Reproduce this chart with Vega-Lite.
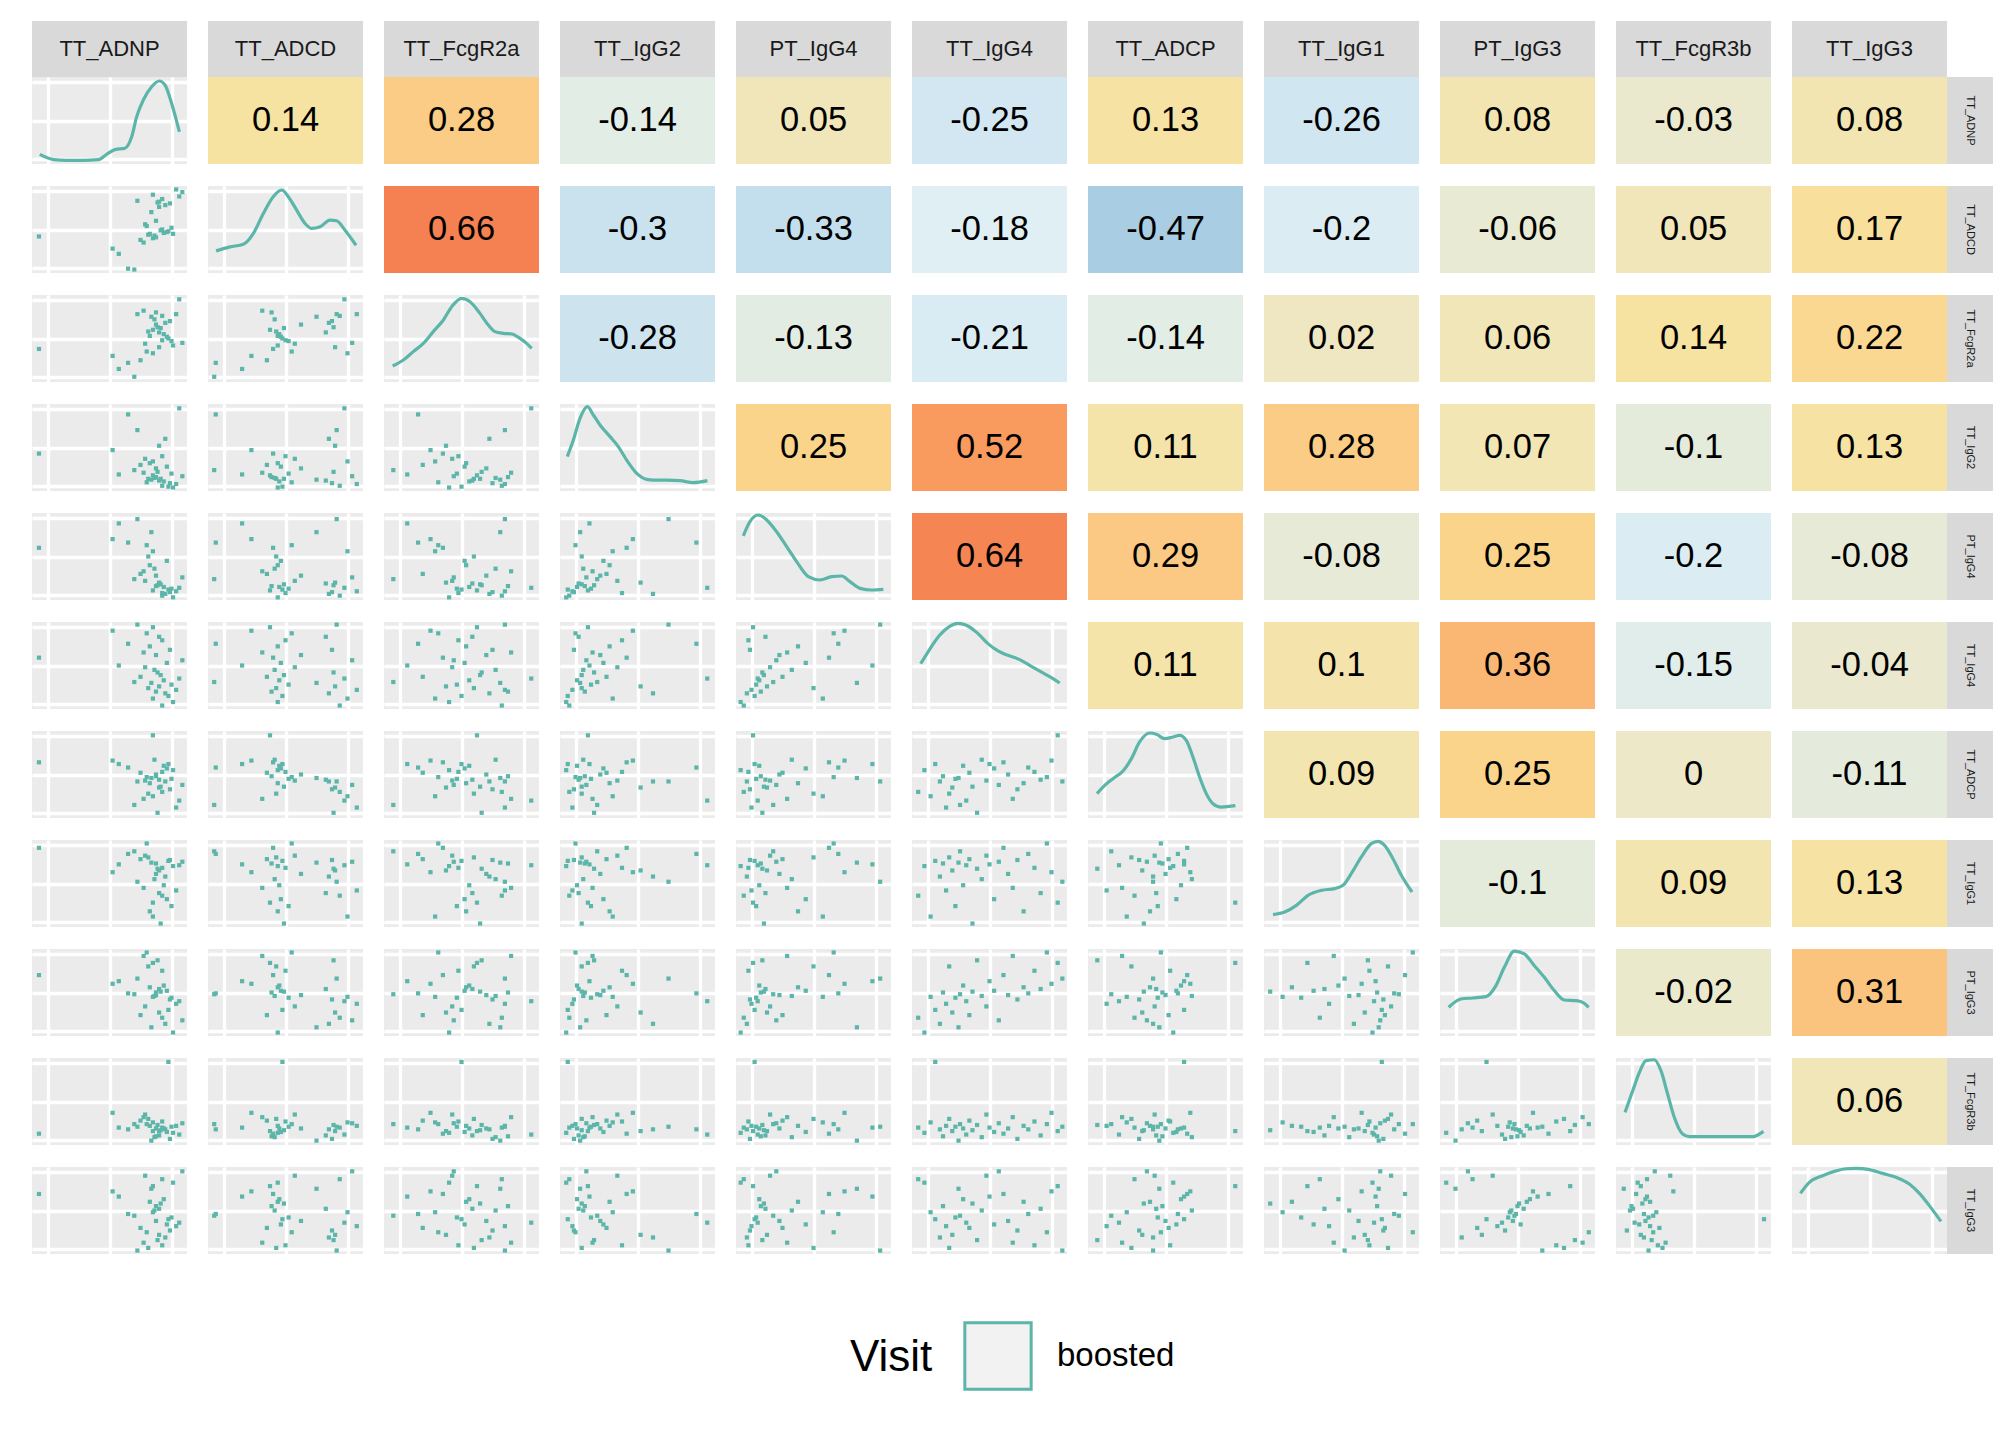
{
  "$schema": "https://vega.github.io/schema/vega-lite/v6.json",
  "padding": {"left": 32, "top": 21, "right": 10, "bottom": 20},
  "background": "white",
  "config": {
    "font": "Liberation Sans",
    "view": {"stroke": null, "fill": "#EBEBEB"},
    "legend": {"layout": {"bottom": {"anchor": "middle"}}}
  },
  "spacing": 0,
  "vconcat": [
    {
      "data": {"values": [{"V": "TT_ADNP"}, {"V": "TT_ADCD"}, {"V": "TT_FcgR2a"}, {"V": "TT_IgG2"}, {"V": "PT_IgG4"}, {"V": "TT_IgG4"}, {"V": "TT_ADCP"}, {"V": "TT_IgG1"}, {"V": "PT_IgG3"}, {"V": "TT_FcgR3b"}, {"V": "TT_IgG3"}]},
      "facet": {"column": {"field": "V", "type": "nominal", "sort": ["TT_ADNP","TT_ADCD","TT_FcgR2a","TT_IgG2","PT_IgG4","TT_IgG4","TT_ADCP","TT_IgG1","PT_IgG3","TT_FcgR3b","TT_IgG3"], "header": null}},
      "spacing": 21,
      "bounds": "flush",
      "spec": {
        "width": 155,
        "height": 56,
        "layer": [
          {"mark": {"type": "rect", "color": "#D9D9D9"},
           "encoding": {"x": {"datum": 0, "type": "quantitative", "scale": {"domain": [0, 1], "nice": false}, "axis": null}, "x2": {"datum": 1},
                        "y": {"datum": 0, "type": "quantitative", "scale": {"domain": [0, 1], "nice": false}, "axis": null}, "y2": {"datum": 1}}},
          {"mark": {"type": "text", "fontSize": 22, "color": "#1A1A1A"},
           "encoding": {"x": {"datum": 0.5, "type": "quantitative"}, "y": {"datum": 0.5, "type": "quantitative"}, "text": {"field": "V", "type": "nominal"}}}
        ]
      }
    },
    {
      "spacing": 0,
      "hconcat": [
        {
          "data": {"values": [
            {"k":"s","Visit":"boosted","TT_ADNP":0.84,"TT_ADCD":0.85,"TT_FcgR2a":0.76,"TT_IgG2":0.06,"PT_IgG4":0.05,"TT_IgG4":0.04,"TT_ADCP":0.30,"TT_IgG1":0.36,"PT_IgG3":0.21,"TT_FcgR3b":0.20,"TT_IgG3":0.86},
            {"k":"s","Visit":"boosted","TT_ADNP":0.91,"TT_ADCD":0.45,"TT_FcgR2a":0.42,"TT_IgG2":0.04,"PT_IgG4":0.03,"TT_IgG4":0.08,"TT_ADCP":0.55,"TT_IgG1":0.70,"PT_IgG3":0.04,"TT_FcgR3b":0.14,"TT_IgG3":0.82},
            {"k":"s","Visit":"boosted","TT_ADNP":0.78,"TT_ADCD":0.90,"TT_FcgR2a":0.33,"TT_IgG2":0.34,"PT_IgG4":0.56,"TT_IgG4":0.12,"TT_ADCP":0.25,"TT_IgG1":0.12,"PT_IgG3":0.45,"TT_FcgR3b":0.26,"TT_IgG3":0.48},
            {"k":"s","Visit":"boosted","TT_ADNP":0.88,"TT_ADCD":0.48,"TT_FcgR2a":0.50,"TT_IgG2":0.05,"PT_IgG4":0.12,"TT_IgG4":0.15,"TT_ADCP":0.62,"TT_IgG1":0.76,"PT_IgG3":0.30,"TT_FcgR3b":0.955,"TT_IgG3":0.40},
            {"k":"s","Visit":"boosted","TT_ADNP":0.86,"TT_ADCD":0.78,"TT_FcgR2a":0.68,"TT_IgG2":0.60,"PT_IgG4":0.07,"TT_IgG4":0.18,"TT_ADCP":0.42,"TT_IgG1":0.58,"PT_IgG3":0.14,"TT_FcgR3b":0.18,"TT_IgG3":0.19},
            {"k":"s","Visit":"boosted","TT_ADNP":0.80,"TT_ADCD":0.41,"TT_FcgR2a":0.80,"TT_IgG2":0.16,"PT_IgG4":0.16,"TT_IgG4":0.20,"TT_ADCP":0.48,"TT_IgG1":0.73,"PT_IgG3":0.50,"TT_FcgR3b":0.10,"TT_IgG3":0.55},
            {"k":"s","Visit":"boosted","TT_ADNP":0.93,"TT_ADCD":0.96,"TT_FcgR2a":0.78,"TT_IgG2":0.08,"PT_IgG4":0.10,"TT_IgG4":0.22,"TT_ADCP":0.12,"TT_IgG1":0.42,"PT_IgG3":0.37,"TT_FcgR3b":0.22,"TT_IgG3":0.32},
            {"k":"s","Visit":"boosted","TT_ADNP":0.75,"TT_ADCD":0.44,"TT_FcgR2a":0.58,"TT_IgG2":0.14,"PT_IgG4":0.50,"TT_IgG4":0.24,"TT_ADCP":0.28,"TT_IgG1":0.80,"PT_IgG3":0.80,"TT_FcgR3b":0.30,"TT_IgG3":0.07},
            {"k":"s","Visit":"boosted","TT_ADNP":0.82,"TT_ADCD":0.82,"TT_FcgR2a":0.40,"TT_IgG2":0.52,"PT_IgG4":0.20,"TT_IgG4":0.26,"TT_ADCP":0.35,"TT_IgG1":0.65,"PT_IgG3":0.27,"TT_FcgR3b":0.16,"TT_IgG3":0.22},
            {"k":"s","Visit":"boosted","TT_ADNP":0.90,"TT_ADCD":0.52,"TT_FcgR2a":0.47,"TT_IgG2":0.20,"PT_IgG4":0.13,"TT_IgG4":0.28,"TT_ADCP":0.45,"TT_IgG1":0.24,"PT_IgG3":0.44,"TT_FcgR3b":0.21,"TT_IgG3":0.42},
            {"k":"s","Visit":"boosted","TT_ADNP":0.77,"TT_ADCD":0.70,"TT_FcgR2a":0.75,"TT_IgG2":0.13,"PT_IgG4":0.78,"TT_IgG4":0.30,"TT_ADCP":0.46,"TT_IgG1":0.74,"PT_IgG3":0.10,"TT_FcgR3b":0.05,"TT_IgG3":0.75},
            {"k":"s","Visit":"boosted","TT_ADNP":0.66,"TT_ADCD":0.04,"TT_FcgR2a":0.06,"TT_IgG2":0.24,"PT_IgG4":0.24,"TT_IgG4":0.31,"TT_ADCP":0.15,"TT_IgG1":0.87,"PT_IgG3":0.48,"TT_FcgR3b":0.24,"TT_IgG3":0.44},
            {"k":"s","Visit":"boosted","TT_ADNP":0.85,"TT_ADCD":0.46,"TT_FcgR2a":0.55,"TT_IgG2":0.11,"PT_IgG4":0.15,"TT_IgG4":0.33,"TT_ADCP":0.60,"TT_IgG1":0.48,"PT_IgG3":0.58,"TT_FcgR3b":0.19,"TT_IgG3":0.63},
            {"k":"s","Visit":"boosted","TT_ADNP":0.95,"TT_ADCD":0.88,"TT_FcgR2a":0.95,"TT_IgG2":0.95,"PT_IgG4":0.14,"TT_IgG4":0.35,"TT_ADCP":0.20,"TT_IgG1":0.71,"PT_IgG3":0.40,"TT_FcgR3b":0.12,"TT_IgG3":0.36},
            {"k":"s","Visit":"boosted","TT_ADNP":0.70,"TT_ADCD":0.38,"TT_FcgR2a":0.25,"TT_IgG2":0.30,"PT_IgG4":0.30,"TT_IgG4":0.37,"TT_ADCP":0.52,"TT_IgG1":0.78,"PT_IgG3":0.24,"TT_FcgR3b":0.28,"TT_IgG3":0.30},
            {"k":"s","Visit":"boosted","TT_ADNP":0.83,"TT_ADCD":0.49,"TT_FcgR2a":0.62,"TT_IgG2":0.14,"PT_IgG4":0.18,"TT_IgG4":0.39,"TT_ADCP":0.36,"TT_IgG1":0.04,"PT_IgG3":0.51,"TT_FcgR3b":0.17,"TT_IgG3":0.58},
            {"k":"s","Visit":"boosted","TT_ADNP":0.81,"TT_ADCD":0.81,"TT_FcgR2a":0.63,"TT_IgG2":0.22,"PT_IgG4":0.17,"TT_IgG4":0.42,"TT_ADCP":0.06,"TT_IgG1":0.67,"PT_IgG3":0.87,"TT_FcgR3b":0.23,"TT_IgG3":0.16},
            {"k":"s","Visit":"boosted","TT_ADNP":0.79,"TT_ADCD":0.43,"TT_FcgR2a":0.72,"TT_IgG2":0.15,"PT_IgG4":0.36,"TT_IgG4":0.45,"TT_ADCP":0.67,"TT_IgG1":0.55,"PT_IgG3":0.46,"TT_FcgR3b":0.09,"TT_IgG3":0.50},
            {"k":"s","Visit":"boosted","TT_ADNP":0.73,"TT_ADCD":0.56,"TT_FcgR2a":0.44,"TT_IgG2":0.37,"PT_IgG4":0.22,"TT_IgG4":0.48,"TT_ADCP":0.43,"TT_IgG1":0.82,"PT_IgG3":0.34,"TT_FcgR3b":0.35,"TT_IgG3":0.90},
            {"k":"s","Visit":"boosted","TT_ADNP":0.56,"TT_ADCD":0.22,"TT_FcgR2a":0.15,"TT_IgG2":0.19,"PT_IgG4":0.88,"TT_IgG4":0.50,"TT_ADCP":0.62,"TT_IgG1":0.72,"PT_IgG3":0.63,"TT_FcgR3b":0.20,"TT_IgG3":0.66},
            {"k":"s","Visit":"boosted","TT_ADNP":0.87,"TT_ADCD":0.47,"TT_FcgR2a":0.52,"TT_IgG2":0.28,"PT_IgG4":0.45,"TT_IgG4":0.53,"TT_ADCP":0.57,"TT_IgG1":0.32,"PT_IgG3":0.52,"TT_FcgR3b":0.15,"TT_IgG3":0.34},
            {"k":"s","Visit":"boosted","TT_ADNP":0.97,"TT_ADCD":0.93,"TT_FcgR2a":0.45,"TT_IgG2":0.17,"PT_IgG4":0.26,"TT_IgG4":0.56,"TT_ADCP":0.38,"TT_IgG1":0.75,"PT_IgG3":0.18,"TT_FcgR3b":0.25,"TT_IgG3":0.95},
            {"k":"s","Visit":"boosted","TT_ADNP":0.045,"TT_ADCD":0.42,"TT_FcgR2a":0.38,"TT_IgG2":0.43,"PT_IgG4":0.60,"TT_IgG4":0.59,"TT_ADCP":0.64,"TT_IgG1":0.91,"PT_IgG3":0.70,"TT_FcgR3b":0.13,"TT_IgG3":0.69},
            {"k":"s","Visit":"boosted","TT_ADNP":0.80,"TT_ADCD":0.60,"TT_FcgR2a":0.66,"TT_IgG2":0.26,"PT_IgG4":0.28,"TT_IgG4":0.62,"TT_ADCP":0.50,"TT_IgG1":0.61,"PT_IgG3":0.47,"TT_FcgR3b":0.19,"TT_IgG3":0.38},
            {"k":"s","Visit":"boosted","TT_ADNP":0.72,"TT_ADCD":0.35,"TT_FcgR2a":0.82,"TT_IgG2":0.21,"PT_IgG4":0.33,"TT_IgG4":0.65,"TT_ADCP":0.22,"TT_IgG1":0.45,"PT_IgG3":0.92,"TT_FcgR3b":0.32,"TT_IgG3":0.13},
            {"k":"s","Visit":"boosted","TT_ADNP":0.89,"TT_ADCD":0.80,"TT_FcgR2a":0.70,"TT_IgG2":0.09,"PT_IgG4":0.09,"TT_IgG4":0.68,"TT_ADCP":0.33,"TT_IgG1":0.77,"PT_IgG3":0.42,"TT_FcgR3b":0.07,"TT_IgG3":0.27},
            {"k":"s","Visit":"boosted","TT_ADNP":0.76,"TT_ADCD":0.45,"TT_FcgR2a":0.53,"TT_IgG2":0.32,"PT_IgG4":0.40,"TT_IgG4":0.72,"TT_ADCP":0.40,"TT_IgG1":0.18,"PT_IgG3":0.56,"TT_FcgR3b":0.22,"TT_IgG3":0.60},
            {"k":"s","Visit":"boosted","TT_ADNP":0.62,"TT_ADCD":0.05,"TT_FcgR2a":0.22,"TT_IgG2":0.88,"PT_IgG4":0.66,"TT_IgG4":0.75,"TT_ADCP":0.58,"TT_IgG1":0.84,"PT_IgG3":0.49,"TT_FcgR3b":0.18,"TT_IgG3":0.46},
            {"k":"s","Visit":"boosted","TT_ADNP":0.84,"TT_ADCD":0.50,"TT_FcgR2a":0.48,"TT_IgG2":0.40,"PT_IgG4":0.08,"TT_IgG4":0.79,"TT_ADCP":0.53,"TT_IgG1":0.68,"PT_IgG3":0.75,"TT_FcgR3b":0.27,"TT_IgG3":0.10},
            {"k":"s","Visit":"boosted","TT_ADNP":0.82,"TT_ADCD":0.76,"TT_FcgR2a":0.57,"TT_IgG2":0.12,"PT_IgG4":0.19,"TT_IgG4":0.83,"TT_ADCP":0.44,"TT_IgG1":0.39,"PT_IgG3":0.54,"TT_FcgR3b":0.11,"TT_IgG3":0.52},
            {"k":"s","Visit":"boosted","TT_ADNP":0.74,"TT_ADCD":0.54,"TT_FcgR2a":0.35,"TT_IgG2":0.10,"PT_IgG4":0.63,"TT_IgG4":0.87,"TT_ADCP":0.47,"TT_IgG1":0.96,"PT_IgG3":0.96,"TT_FcgR3b":0.24,"TT_IgG3":0.25},
            {"k":"s","Visit":"boosted","TT_ADNP":0.52,"TT_ADCD":0.28,"TT_FcgR2a":0.30,"TT_IgG2":0.47,"PT_IgG4":0.70,"TT_IgG4":0.90,"TT_ADCP":0.66,"TT_IgG1":0.63,"PT_IgG3":0.60,"TT_FcgR3b":0.37,"TT_IgG3":0.72},
            {"k":"s","Visit":"boosted","TT_ADNP":0.78,"TT_ADCD":0.40,"TT_FcgR2a":0.60,"TT_IgG2":0.18,"PT_IgG4":0.11,"TT_IgG4":0.94,"TT_ADCP":0.95,"TT_IgG1":0.28,"PT_IgG3":0.84,"TT_FcgR3b":0.16,"TT_IgG3":0.78},
            {"k":"s","Visit":"boosted","TT_ADNP":0.68,"TT_ADCD":0.83,"TT_FcgR2a":0.78,"TT_IgG2":0.70,"PT_IgG4":0.93,"TT_IgG4":0.97,"TT_ADCP":0.42,"TT_IgG1":0.52,"PT_IgG3":0.66,"TT_FcgR3b":0.21,"TT_IgG3":0.04},

            {"k":"c","R":"TT_ADNP","C":"TT_ADCD","r":0.14},
            {"k":"c","R":"TT_ADNP","C":"TT_FcgR2a","r":0.28},
            {"k":"c","R":"TT_ADNP","C":"TT_IgG2","r":-0.14},
            {"k":"c","R":"TT_ADNP","C":"PT_IgG4","r":0.05},
            {"k":"c","R":"TT_ADNP","C":"TT_IgG4","r":-0.25},
            {"k":"c","R":"TT_ADNP","C":"TT_ADCP","r":0.13},
            {"k":"c","R":"TT_ADNP","C":"TT_IgG1","r":-0.26},
            {"k":"c","R":"TT_ADNP","C":"PT_IgG3","r":0.08},
            {"k":"c","R":"TT_ADNP","C":"TT_FcgR3b","r":-0.03},
            {"k":"c","R":"TT_ADNP","C":"TT_IgG3","r":0.08},
            {"k":"c","R":"TT_ADCD","C":"TT_FcgR2a","r":0.66},
            {"k":"c","R":"TT_ADCD","C":"TT_IgG2","r":-0.3},
            {"k":"c","R":"TT_ADCD","C":"PT_IgG4","r":-0.33},
            {"k":"c","R":"TT_ADCD","C":"TT_IgG4","r":-0.18},
            {"k":"c","R":"TT_ADCD","C":"TT_ADCP","r":-0.47},
            {"k":"c","R":"TT_ADCD","C":"TT_IgG1","r":-0.2},
            {"k":"c","R":"TT_ADCD","C":"PT_IgG3","r":-0.06},
            {"k":"c","R":"TT_ADCD","C":"TT_FcgR3b","r":0.05},
            {"k":"c","R":"TT_ADCD","C":"TT_IgG3","r":0.17},
            {"k":"c","R":"TT_FcgR2a","C":"TT_IgG2","r":-0.28},
            {"k":"c","R":"TT_FcgR2a","C":"PT_IgG4","r":-0.13},
            {"k":"c","R":"TT_FcgR2a","C":"TT_IgG4","r":-0.21},
            {"k":"c","R":"TT_FcgR2a","C":"TT_ADCP","r":-0.14},
            {"k":"c","R":"TT_FcgR2a","C":"TT_IgG1","r":0.02},
            {"k":"c","R":"TT_FcgR2a","C":"PT_IgG3","r":0.06},
            {"k":"c","R":"TT_FcgR2a","C":"TT_FcgR3b","r":0.14},
            {"k":"c","R":"TT_FcgR2a","C":"TT_IgG3","r":0.22},
            {"k":"c","R":"TT_IgG2","C":"PT_IgG4","r":0.25},
            {"k":"c","R":"TT_IgG2","C":"TT_IgG4","r":0.52},
            {"k":"c","R":"TT_IgG2","C":"TT_ADCP","r":0.11},
            {"k":"c","R":"TT_IgG2","C":"TT_IgG1","r":0.28},
            {"k":"c","R":"TT_IgG2","C":"PT_IgG3","r":0.07},
            {"k":"c","R":"TT_IgG2","C":"TT_FcgR3b","r":-0.1},
            {"k":"c","R":"TT_IgG2","C":"TT_IgG3","r":0.13},
            {"k":"c","R":"PT_IgG4","C":"TT_IgG4","r":0.64},
            {"k":"c","R":"PT_IgG4","C":"TT_ADCP","r":0.29},
            {"k":"c","R":"PT_IgG4","C":"TT_IgG1","r":-0.08},
            {"k":"c","R":"PT_IgG4","C":"PT_IgG3","r":0.25},
            {"k":"c","R":"PT_IgG4","C":"TT_FcgR3b","r":-0.2},
            {"k":"c","R":"PT_IgG4","C":"TT_IgG3","r":-0.08},
            {"k":"c","R":"TT_IgG4","C":"TT_ADCP","r":0.11},
            {"k":"c","R":"TT_IgG4","C":"TT_IgG1","r":0.1},
            {"k":"c","R":"TT_IgG4","C":"PT_IgG3","r":0.36},
            {"k":"c","R":"TT_IgG4","C":"TT_FcgR3b","r":-0.15},
            {"k":"c","R":"TT_IgG4","C":"TT_IgG3","r":-0.04},
            {"k":"c","R":"TT_ADCP","C":"TT_IgG1","r":0.09},
            {"k":"c","R":"TT_ADCP","C":"PT_IgG3","r":0.25},
            {"k":"c","R":"TT_ADCP","C":"TT_FcgR3b","r":0},
            {"k":"c","R":"TT_ADCP","C":"TT_IgG3","r":-0.11},
            {"k":"c","R":"TT_IgG1","C":"PT_IgG3","r":-0.1},
            {"k":"c","R":"TT_IgG1","C":"TT_FcgR3b","r":0.09},
            {"k":"c","R":"TT_IgG1","C":"TT_IgG3","r":0.13},
            {"k":"c","R":"PT_IgG3","C":"TT_FcgR3b","r":-0.02},
            {"k":"c","R":"PT_IgG3","C":"TT_IgG3","r":0.31},
            {"k":"c","R":"TT_FcgR3b","C":"TT_IgG3","r":0.06},

            {"k":"d","R":"TT_ADNP","C":"TT_ADNP","dx":0.05,"dy":0.11},
            {"k":"d","R":"TT_ADNP","C":"TT_ADNP","dx":0.14,"dy":0.05},
            {"k":"d","R":"TT_ADNP","C":"TT_ADNP","dx":0.22,"dy":0.042},
            {"k":"d","R":"TT_ADNP","C":"TT_ADNP","dx":0.33,"dy":0.042},
            {"k":"d","R":"TT_ADNP","C":"TT_ADNP","dx":0.43,"dy":0.05},
            {"k":"d","R":"TT_ADNP","C":"TT_ADNP","dx":0.482,"dy":0.112},
            {"k":"d","R":"TT_ADNP","C":"TT_ADNP","dx":0.535,"dy":0.165},
            {"k":"d","R":"TT_ADNP","C":"TT_ADNP","dx":0.6,"dy":0.181},
            {"k":"d","R":"TT_ADNP","C":"TT_ADNP","dx":0.643,"dy":0.312},
            {"k":"d","R":"TT_ADNP","C":"TT_ADNP","dx":0.675,"dy":0.542},
            {"k":"d","R":"TT_ADNP","C":"TT_ADNP","dx":0.718,"dy":0.735},
            {"k":"d","R":"TT_ADNP","C":"TT_ADNP","dx":0.772,"dy":0.888},
            {"k":"d","R":"TT_ADNP","C":"TT_ADNP","dx":0.822,"dy":0.954},
            {"k":"d","R":"TT_ADNP","C":"TT_ADNP","dx":0.858,"dy":0.908},
            {"k":"d","R":"TT_ADNP","C":"TT_ADNP","dx":0.901,"dy":0.696},
            {"k":"d","R":"TT_ADNP","C":"TT_ADNP","dx":0.951,"dy":0.369},

            {"k":"d","R":"TT_ADCD","C":"TT_ADCD","dx":0.052,"dy":0.254},
            {"k":"d","R":"TT_ADCD","C":"TT_ADCD","dx":0.142,"dy":0.3},
            {"k":"d","R":"TT_ADCD","C":"TT_ADCD","dx":0.228,"dy":0.331},
            {"k":"d","R":"TT_ADCD","C":"TT_ADCD","dx":0.292,"dy":0.454},
            {"k":"d","R":"TT_ADCD","C":"TT_ADCD","dx":0.357,"dy":0.685},
            {"k":"d","R":"TT_ADCD","C":"TT_ADCD","dx":0.421,"dy":0.877},
            {"k":"d","R":"TT_ADCD","C":"TT_ADCD","dx":0.475,"dy":0.954},
            {"k":"d","R":"TT_ADCD","C":"TT_ADCD","dx":0.518,"dy":0.877},
            {"k":"d","R":"TT_ADCD","C":"TT_ADCD","dx":0.572,"dy":0.723},
            {"k":"d","R":"TT_ADCD","C":"TT_ADCD","dx":0.626,"dy":0.569},
            {"k":"d","R":"TT_ADCD","C":"TT_ADCD","dx":0.669,"dy":0.512},
            {"k":"d","R":"TT_ADCD","C":"TT_ADCD","dx":0.723,"dy":0.531},
            {"k":"d","R":"TT_ADCD","C":"TT_ADCD","dx":0.787,"dy":0.608},
            {"k":"d","R":"TT_ADCD","C":"TT_ADCD","dx":0.83,"dy":0.6},
            {"k":"d","R":"TT_ADCD","C":"TT_ADCD","dx":0.884,"dy":0.492},
            {"k":"d","R":"TT_ADCD","C":"TT_ADCD","dx":0.955,"dy":0.319},

            {"k":"d","R":"TT_FcgR2a","C":"TT_FcgR2a","dx":0.056,"dy":0.184},
            {"k":"d","R":"TT_FcgR2a","C":"TT_FcgR2a","dx":0.125,"dy":0.253},
            {"k":"d","R":"TT_FcgR2a","C":"TT_FcgR2a","dx":0.189,"dy":0.349},
            {"k":"d","R":"TT_FcgR2a","C":"TT_FcgR2a","dx":0.254,"dy":0.444},
            {"k":"d","R":"TT_FcgR2a","C":"TT_FcgR2a","dx":0.318,"dy":0.579},
            {"k":"d","R":"TT_FcgR2a","C":"TT_FcgR2a","dx":0.383,"dy":0.713},
            {"k":"d","R":"TT_FcgR2a","C":"TT_FcgR2a","dx":0.437,"dy":0.866},
            {"k":"d","R":"TT_FcgR2a","C":"TT_FcgR2a","dx":0.501,"dy":0.962},
            {"k":"d","R":"TT_FcgR2a","C":"TT_FcgR2a","dx":0.555,"dy":0.923},
            {"k":"d","R":"TT_FcgR2a","C":"TT_FcgR2a","dx":0.619,"dy":0.789},
            {"k":"d","R":"TT_FcgR2a","C":"TT_FcgR2a","dx":0.673,"dy":0.655},
            {"k":"d","R":"TT_FcgR2a","C":"TT_FcgR2a","dx":0.716,"dy":0.579},
            {"k":"d","R":"TT_FcgR2a","C":"TT_FcgR2a","dx":0.77,"dy":0.559},
            {"k":"d","R":"TT_FcgR2a","C":"TT_FcgR2a","dx":0.824,"dy":0.552},
            {"k":"d","R":"TT_FcgR2a","C":"TT_FcgR2a","dx":0.877,"dy":0.502},
            {"k":"d","R":"TT_FcgR2a","C":"TT_FcgR2a","dx":0.92,"dy":0.444},
            {"k":"d","R":"TT_FcgR2a","C":"TT_FcgR2a","dx":0.953,"dy":0.387},

            {"k":"d","R":"TT_IgG2","C":"TT_IgG2","dx":0.047,"dy":0.395},
            {"k":"d","R":"TT_IgG2","C":"TT_IgG2","dx":0.086,"dy":0.586},
            {"k":"d","R":"TT_IgG2","C":"TT_IgG2","dx":0.129,"dy":0.835},
            {"k":"d","R":"TT_IgG2","C":"TT_IgG2","dx":0.176,"dy":0.969},
            {"k":"d","R":"TT_IgG2","C":"TT_IgG2","dx":0.215,"dy":0.874},
            {"k":"d","R":"TT_IgG2","C":"TT_IgG2","dx":0.258,"dy":0.759},
            {"k":"d","R":"TT_IgG2","C":"TT_IgG2","dx":0.323,"dy":0.625},
            {"k":"d","R":"TT_IgG2","C":"TT_IgG2","dx":0.376,"dy":0.51},
            {"k":"d","R":"TT_IgG2","C":"TT_IgG2","dx":0.43,"dy":0.356},
            {"k":"d","R":"TT_IgG2","C":"TT_IgG2","dx":0.495,"dy":0.203},
            {"k":"d","R":"TT_IgG2","C":"TT_IgG2","dx":0.559,"dy":0.134},
            {"k":"d","R":"TT_IgG2","C":"TT_IgG2","dx":0.602,"dy":0.126},
            {"k":"d","R":"TT_IgG2","C":"TT_IgG2","dx":0.688,"dy":0.126},
            {"k":"d","R":"TT_IgG2","C":"TT_IgG2","dx":0.774,"dy":0.119},
            {"k":"d","R":"TT_IgG2","C":"TT_IgG2","dx":0.86,"dy":0.096},
            {"k":"d","R":"TT_IgG2","C":"TT_IgG2","dx":0.951,"dy":0.119},

            {"k":"d","R":"PT_IgG4","C":"PT_IgG4","dx":0.047,"dy":0.736},
            {"k":"d","R":"PT_IgG4","C":"PT_IgG4","dx":0.09,"dy":0.9},
            {"k":"d","R":"PT_IgG4","C":"PT_IgG4","dx":0.144,"dy":0.977},
            {"k":"d","R":"PT_IgG4","C":"PT_IgG4","dx":0.198,"dy":0.92},
            {"k":"d","R":"PT_IgG4","C":"PT_IgG4","dx":0.262,"dy":0.785},
            {"k":"d","R":"PT_IgG4","C":"PT_IgG4","dx":0.327,"dy":0.613},
            {"k":"d","R":"PT_IgG4","C":"PT_IgG4","dx":0.391,"dy":0.441},
            {"k":"d","R":"PT_IgG4","C":"PT_IgG4","dx":0.467,"dy":0.268},
            {"k":"d","R":"PT_IgG4","C":"PT_IgG4","dx":0.542,"dy":0.23},
            {"k":"d","R":"PT_IgG4","C":"PT_IgG4","dx":0.617,"dy":0.268},
            {"k":"d","R":"PT_IgG4","C":"PT_IgG4","dx":0.682,"dy":0.276},
            {"k":"d","R":"PT_IgG4","C":"PT_IgG4","dx":0.735,"dy":0.211},
            {"k":"d","R":"PT_IgG4","C":"PT_IgG4","dx":0.8,"dy":0.134},
            {"k":"d","R":"PT_IgG4","C":"PT_IgG4","dx":0.875,"dy":0.115},
            {"k":"d","R":"PT_IgG4","C":"PT_IgG4","dx":0.951,"dy":0.123},

            {"k":"d","R":"TT_IgG4","C":"TT_IgG4","dx":0.056,"dy":0.521},
            {"k":"d","R":"TT_IgG4","C":"TT_IgG4","dx":0.103,"dy":0.655},
            {"k":"d","R":"TT_IgG4","C":"TT_IgG4","dx":0.178,"dy":0.847},
            {"k":"d","R":"TT_IgG4","C":"TT_IgG4","dx":0.243,"dy":0.95},
            {"k":"d","R":"TT_IgG4","C":"TT_IgG4","dx":0.297,"dy":0.985},
            {"k":"d","R":"TT_IgG4","C":"TT_IgG4","dx":0.351,"dy":0.962},
            {"k":"d","R":"TT_IgG4","C":"TT_IgG4","dx":0.426,"dy":0.866},
            {"k":"d","R":"TT_IgG4","C":"TT_IgG4","dx":0.49,"dy":0.751},
            {"k":"d","R":"TT_IgG4","C":"TT_IgG4","dx":0.555,"dy":0.667},
            {"k":"d","R":"TT_IgG4","C":"TT_IgG4","dx":0.619,"dy":0.617},
            {"k":"d","R":"TT_IgG4","C":"TT_IgG4","dx":0.695,"dy":0.567},
            {"k":"d","R":"TT_IgG4","C":"TT_IgG4","dx":0.77,"dy":0.49},
            {"k":"d","R":"TT_IgG4","C":"TT_IgG4","dx":0.845,"dy":0.414},
            {"k":"d","R":"TT_IgG4","C":"TT_IgG4","dx":0.899,"dy":0.36},
            {"k":"d","R":"TT_IgG4","C":"TT_IgG4","dx":0.953,"dy":0.299},

            {"k":"d","R":"TT_ADCP","C":"TT_ADCP","dx":0.058,"dy":0.28},
            {"k":"d","R":"TT_ADCP","C":"TT_ADCP","dx":0.108,"dy":0.375},
            {"k":"d","R":"TT_ADCP","C":"TT_ADCP","dx":0.161,"dy":0.452},
            {"k":"d","R":"TT_ADCP","C":"TT_ADCP","dx":0.226,"dy":0.54},
            {"k":"d","R":"TT_ADCP","C":"TT_ADCP","dx":0.28,"dy":0.682},
            {"k":"d","R":"TT_ADCP","C":"TT_ADCP","dx":0.333,"dy":0.874},
            {"k":"d","R":"TT_ADCP","C":"TT_ADCP","dx":0.398,"dy":0.977},
            {"k":"d","R":"TT_ADCP","C":"TT_ADCP","dx":0.441,"dy":0.962},
            {"k":"d","R":"TT_ADCP","C":"TT_ADCP","dx":0.495,"dy":0.912},
            {"k":"d","R":"TT_ADCP","C":"TT_ADCP","dx":0.548,"dy":0.931},
            {"k":"d","R":"TT_ADCP","C":"TT_ADCP","dx":0.591,"dy":0.95},
            {"k":"d","R":"TT_ADCP","C":"TT_ADCP","dx":0.634,"dy":0.893},
            {"k":"d","R":"TT_ADCP","C":"TT_ADCP","dx":0.677,"dy":0.701},
            {"k":"d","R":"TT_ADCP","C":"TT_ADCP","dx":0.72,"dy":0.471},
            {"k":"d","R":"TT_ADCP","C":"TT_ADCP","dx":0.763,"dy":0.28},
            {"k":"d","R":"TT_ADCP","C":"TT_ADCP","dx":0.806,"dy":0.165},
            {"k":"d","R":"TT_ADCP","C":"TT_ADCP","dx":0.86,"dy":0.126},
            {"k":"d","R":"TT_ADCP","C":"TT_ADCP","dx":0.951,"dy":0.142},

            {"k":"d","R":"TT_IgG1","C":"TT_IgG1","dx":0.058,"dy":0.142},
            {"k":"d","R":"TT_IgG1","C":"TT_IgG1","dx":0.133,"dy":0.172},
            {"k":"d","R":"TT_IgG1","C":"TT_IgG1","dx":0.209,"dy":0.249},
            {"k":"d","R":"TT_IgG1","C":"TT_IgG1","dx":0.284,"dy":0.364},
            {"k":"d","R":"TT_IgG1","C":"TT_IgG1","dx":0.37,"dy":0.421},
            {"k":"d","R":"TT_IgG1","C":"TT_IgG1","dx":0.456,"dy":0.441},
            {"k":"d","R":"TT_IgG1","C":"TT_IgG1","dx":0.51,"dy":0.479},
            {"k":"d","R":"TT_IgG1","C":"TT_IgG1","dx":0.563,"dy":0.613},
            {"k":"d","R":"TT_IgG1","C":"TT_IgG1","dx":0.628,"dy":0.805},
            {"k":"d","R":"TT_IgG1","C":"TT_IgG1","dx":0.692,"dy":0.958},
            {"k":"d","R":"TT_IgG1","C":"TT_IgG1","dx":0.735,"dy":0.985},
            {"k":"d","R":"TT_IgG1","C":"TT_IgG1","dx":0.778,"dy":0.939},
            {"k":"d","R":"TT_IgG1","C":"TT_IgG1","dx":0.832,"dy":0.785},
            {"k":"d","R":"TT_IgG1","C":"TT_IgG1","dx":0.886,"dy":0.594},
            {"k":"d","R":"TT_IgG1","C":"TT_IgG1","dx":0.955,"dy":0.402},

            {"k":"d","R":"PT_IgG3","C":"PT_IgG3","dx":0.056,"dy":0.33},
            {"k":"d","R":"PT_IgG3","C":"PT_IgG3","dx":0.135,"dy":0.425},
            {"k":"d","R":"PT_IgG3","C":"PT_IgG3","dx":0.211,"dy":0.437},
            {"k":"d","R":"PT_IgG3","C":"PT_IgG3","dx":0.297,"dy":0.452},
            {"k":"d","R":"PT_IgG3","C":"PT_IgG3","dx":0.361,"dy":0.579},
            {"k":"d","R":"PT_IgG3","C":"PT_IgG3","dx":0.415,"dy":0.789},
            {"k":"d","R":"PT_IgG3","C":"PT_IgG3","dx":0.48,"dy":0.975},
            {"k":"d","R":"PT_IgG3","C":"PT_IgG3","dx":0.544,"dy":0.943},
            {"k":"d","R":"PT_IgG3","C":"PT_IgG3","dx":0.609,"dy":0.808},
            {"k":"d","R":"PT_IgG3","C":"PT_IgG3","dx":0.673,"dy":0.674},
            {"k":"d","R":"PT_IgG3","C":"PT_IgG3","dx":0.738,"dy":0.521},
            {"k":"d","R":"PT_IgG3","C":"PT_IgG3","dx":0.802,"dy":0.414},
            {"k":"d","R":"PT_IgG3","C":"PT_IgG3","dx":0.877,"dy":0.406},
            {"k":"d","R":"PT_IgG3","C":"PT_IgG3","dx":0.92,"dy":0.387},
            {"k":"d","R":"PT_IgG3","C":"PT_IgG3","dx":0.959,"dy":0.33},

            {"k":"d","R":"TT_FcgR3b","C":"TT_FcgR3b","dx":0.058,"dy":0.375},
            {"k":"d","R":"TT_FcgR3b","C":"TT_FcgR3b","dx":0.108,"dy":0.625},
            {"k":"d","R":"TT_FcgR3b","C":"TT_FcgR3b","dx":0.151,"dy":0.835},
            {"k":"d","R":"TT_FcgR3b","C":"TT_FcgR3b","dx":0.194,"dy":0.97},
            {"k":"d","R":"TT_FcgR3b","C":"TT_FcgR3b","dx":0.247,"dy":0.98},
            {"k":"d","R":"TT_FcgR3b","C":"TT_FcgR3b","dx":0.29,"dy":0.854},
            {"k":"d","R":"TT_FcgR3b","C":"TT_FcgR3b","dx":0.333,"dy":0.586},
            {"k":"d","R":"TT_FcgR3b","C":"TT_FcgR3b","dx":0.376,"dy":0.318},
            {"k":"d","R":"TT_FcgR3b","C":"TT_FcgR3b","dx":0.43,"dy":0.126},
            {"k":"d","R":"TT_FcgR3b","C":"TT_FcgR3b","dx":0.473,"dy":0.096},
            {"k":"d","R":"TT_FcgR3b","C":"TT_FcgR3b","dx":0.559,"dy":0.096},
            {"k":"d","R":"TT_FcgR3b","C":"TT_FcgR3b","dx":0.667,"dy":0.096},
            {"k":"d","R":"TT_FcgR3b","C":"TT_FcgR3b","dx":0.774,"dy":0.096},
            {"k":"d","R":"TT_FcgR3b","C":"TT_FcgR3b","dx":0.882,"dy":0.096},
            {"k":"d","R":"TT_FcgR3b","C":"TT_FcgR3b","dx":0.951,"dy":0.157},

            {"k":"d","R":"TT_IgG3","C":"TT_IgG3","dx":0.054,"dy":0.697},
            {"k":"d","R":"TT_IgG3","C":"TT_IgG3","dx":0.112,"dy":0.824},
            {"k":"d","R":"TT_IgG3","C":"TT_IgG3","dx":0.198,"dy":0.9},
            {"k":"d","R":"TT_IgG3","C":"TT_IgG3","dx":0.284,"dy":0.955},
            {"k":"d","R":"TT_IgG3","C":"TT_IgG3","dx":0.348,"dy":0.98},
            {"k":"d","R":"TT_IgG3","C":"TT_IgG3","dx":0.413,"dy":0.985},
            {"k":"d","R":"TT_IgG3","C":"TT_IgG3","dx":0.499,"dy":0.97},
            {"k":"d","R":"TT_IgG3","C":"TT_IgG3","dx":0.585,"dy":0.927},
            {"k":"d","R":"TT_IgG3","C":"TT_IgG3","dx":0.671,"dy":0.881},
            {"k":"d","R":"TT_IgG3","C":"TT_IgG3","dx":0.757,"dy":0.805},
            {"k":"d","R":"TT_IgG3","C":"TT_IgG3","dx":0.822,"dy":0.697},
            {"k":"d","R":"TT_IgG3","C":"TT_IgG3","dx":0.886,"dy":0.556},
            {"k":"d","R":"TT_IgG3","C":"TT_IgG3","dx":0.961,"dy":0.375}
          ]},
          "transform": [
            {"fold": ["TT_ADNP","TT_ADCD","TT_FcgR2a","TT_IgG2","PT_IgG4","TT_IgG4","TT_ADCP","TT_IgG1","PT_IgG3","TT_FcgR3b","TT_IgG3"], "as": ["cv", "xv"]},
            {"fold": ["TT_ADNP","TT_ADCD","TT_FcgR2a","TT_IgG2","PT_IgG4","TT_IgG4","TT_ADCP","TT_IgG1","PT_IgG3","TT_FcgR3b","TT_IgG3"], "as": ["rv", "yv"]},
            {"filter": "datum.k == 's' ? indexof(['TT_ADNP','TT_ADCD','TT_FcgR2a','TT_IgG2','PT_IgG4','TT_IgG4','TT_ADCP','TT_IgG1','PT_IgG3','TT_FcgR3b','TT_IgG3'], datum.rv) > indexof(['TT_ADNP','TT_ADCD','TT_FcgR2a','TT_IgG2','PT_IgG4','TT_IgG4','TT_ADCP','TT_IgG1','PT_IgG3','TT_FcgR3b','TT_IgG3'], datum.cv) : (datum.rv == datum.R && datum.cv == datum.C)"}
          ],
          "facet": {
            "row": {"field": "rv", "type": "nominal", "sort": ["TT_ADNP","TT_ADCD","TT_FcgR2a","TT_IgG2","PT_IgG4","TT_IgG4","TT_ADCP","TT_IgG1","PT_IgG3","TT_FcgR3b","TT_IgG3"], "header": null},
            "column": {"field": "cv", "type": "nominal", "sort": ["TT_ADNP","TT_ADCD","TT_FcgR2a","TT_IgG2","PT_IgG4","TT_IgG4","TT_ADCP","TT_IgG1","PT_IgG3","TT_FcgR3b","TT_IgG3"], "header": null}
          },
          "spacing": {"row": 22, "column": 21},
          "bounds": "flush",
          "spec": {
            "width": 155,
            "height": 87,
            "layer": [
              {
                "transform": [{"filter": "datum.k == 'd'"}],
                "mark": {"type": "line", "color": "#5BB5A9", "strokeWidth": 3.2, "interpolate": "monotone", "strokeJoin": "round"},
                "encoding": {
                  "x": {"field": "dx", "type": "quantitative", "scale": {"domain": [0, 1], "nice": false, "zero": false},
                        "axis": {"values": [0.1, 0.2, 0.3, 0.4, 0.5, 0.6, 0.7, 0.8, 0.9], "grid": true, "gridColor": "#FFFFFF", "gridOpacity": 1,
                                 "gridWidth": {"condition": {"test": "indexof([0.1, 0.3, 0.5, 0.7, 0.9], datum.value) >= 0", "value": 3.3}, "value": 1.8},
                                 "labels": false, "ticks": false, "domain": false, "title": null}},
                  "y": {"field": "dy", "type": "quantitative", "scale": {"domain": [0, 1], "nice": false, "zero": false},
                        "axis": {"values": [0.06, 0.17, 0.28, 0.39, 0.5, 0.61, 0.72, 0.83, 0.94], "grid": true, "gridColor": "#FFFFFF", "gridOpacity": 1,
                                 "gridWidth": {"condition": {"test": "indexof([0.06, 0.28, 0.5, 0.72, 0.94], datum.value) >= 0", "value": 3.3}, "value": 1.8},
                                 "labels": false, "ticks": false, "domain": false, "title": null}}
                }
              },
              {
                "transform": [{"filter": "datum.k == 's'"}],
                "mark": {"type": "point", "shape": "square", "filled": false, "fill": "#F2F2F2", "size": 4, "strokeWidth": 2.2, "opacity": 1},
                "encoding": {
                  "x": {"field": "xv", "type": "quantitative", "scale": {"domain": [0, 1], "nice": false, "zero": false}},
                  "y": {"field": "yv", "type": "quantitative", "scale": {"domain": [0, 1], "nice": false, "zero": false}},
                  "stroke": {"field": "Visit", "type": "nominal", "scale": {"range": ["#5BB5A9"]},
                            "legend": {"title": "Visit", "orient": "bottom", "direction": "horizontal", "offset": 65,
                                       "titleOrient": "left", "titleAngle": 0, "titleFontSize": 44, "titleFontWeight": "normal", "titleColor": "#000000",
                                       "titleAnchor": "middle", "titleBaseline": "middle", "titlePadding": 30,
                                       "labelFontSize": 33, "labelColor": "#000000", "labelOffset": 24,
                                       "symbolType": "square", "symbolSize": 4400, "symbolStrokeWidth": 3,
                                       "symbolFillColor": "#F2F2F2",
                                       "encode": {"symbols": {"fill": {"value": "#F2F2F2"}, "strokeWidth": {"value": 3}}}}}
                }
              },
              {
                "transform": [{"filter": "datum.k == 'c'"}],
                "mark": {"type": "rect"},
                "encoding": {
                  "x": {"datum": 0, "type": "quantitative", "scale": {"domain": [0, 1], "nice": false, "zero": false}},
                  "x2": {"datum": 1},
                  "y": {"datum": 0, "type": "quantitative", "scale": {"domain": [0, 1], "nice": false, "zero": false}},
                  "y2": {"datum": 1},
                  "fill": {"field": "r", "type": "quantitative", "legend": null,
                           "scale": {"domain": [-0.47, -0.3, -0.18, -0.11, 0, 0.14, 0.25, 0.36, 0.52, 0.66],
                                     "range": ["#A9CDE2", "#C9E2EE", "#DFEFF4", "#E4EBDC", "#EDE8C8", "#F7E3A1", "#FBD48C", "#FAB774", "#F99A5E", "#F58152"],
                                     "interpolate": "rgb"}}
                }
              },
              {
                "transform": [{"filter": "datum.k == 'c'"}],
                "mark": {"type": "text", "fontSize": 34.5, "color": "#000000"},
                "encoding": {
                  "x": {"datum": 0.5, "type": "quantitative"},
                  "y": {"datum": 0.5, "type": "quantitative"},
                  "text": {"field": "r", "type": "nominal"}
                }
              }
            ]
          }
        },
        {
          "data": {"values": [{"V": "TT_ADNP"}, {"V": "TT_ADCD"}, {"V": "TT_FcgR2a"}, {"V": "TT_IgG2"}, {"V": "PT_IgG4"}, {"V": "TT_IgG4"}, {"V": "TT_ADCP"}, {"V": "TT_IgG1"}, {"V": "PT_IgG3"}, {"V": "TT_FcgR3b"}, {"V": "TT_IgG3"}]},
          "facet": {"row": {"field": "V", "type": "nominal", "sort": ["TT_ADNP","TT_ADCD","TT_FcgR2a","TT_IgG2","PT_IgG4","TT_IgG4","TT_ADCP","TT_IgG1","PT_IgG3","TT_FcgR3b","TT_IgG3"], "header": null}},
          "spacing": 22,
          "bounds": "flush",
          "spec": {
            "width": 46,
            "height": 87,
            "layer": [
              {"mark": {"type": "rect", "color": "#D9D9D9"},
               "encoding": {"x": {"datum": 0, "type": "quantitative", "scale": {"domain": [0, 1], "nice": false}, "axis": null}, "x2": {"datum": 1},
                            "y": {"datum": 0, "type": "quantitative", "scale": {"domain": [0, 1], "nice": false}, "axis": null}, "y2": {"datum": 1}}},
              {"mark": {"type": "text", "fontSize": 11, "color": "#1A1A1A", "angle": 90},
               "encoding": {"x": {"datum": 0.5, "type": "quantitative"}, "y": {"datum": 0.5, "type": "quantitative"}, "text": {"field": "V", "type": "nominal"}}}
            ]
          }
        }
      ]
    }
  ]
}
